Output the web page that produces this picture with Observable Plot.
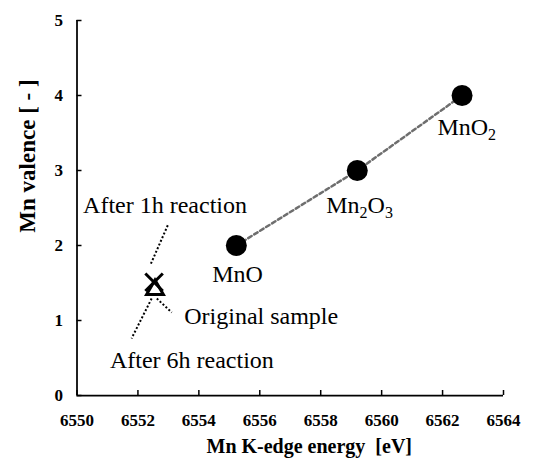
<!DOCTYPE html>
<html><head><meta charset="utf-8">
<script src="https://cdn.jsdelivr.net/npm/d3@7"></script>
<script src="https://cdn.jsdelivr.net/npm/@observablehq/plot@0.6"></script>
<style>
body{margin:0;background:#fff;}
#chart svg, #chart svg text { font-family: "Liberation Serif", "Times New Roman", serif !important; }
</style>
</head><body><div id="chart"></div>
<script>
// Reference oxides
const compounds = ["MnO", "Mn2O3", "MnO2"];
const edgeEnergy = [6555.23, 6559.2, 6562.64];
const valence = [2, 3, 4];
const compoundLabelX = [6554.44, 6558.18, 6561.83];
const compoundLabelY = [1.507, 2.44, 3.467];

// Samples
const sampleNames = ["After 1h reaction", "Original sample"];
const sampleEnergy = [6552.53, 6552.56];
const sampleValence = [1.51, 1.41];
const sampleSymbols = ["times", "triangle2"];

// Annotations with dotted leader lines
const annotations = ["After 1h reaction", "Original sample", "After 6h reaction"];
const annotX = [6550.2, 6553.52, 6551.08];
const annotY = [2.427, 0.96, 0.373];
const leaderX1 = [6552.98, 6552.62, 6552.45];
const leaderY1 = [2.27, 1.293, 1.293];
const leaderX2 = [6552.40, 6553.11, 6551.79];
const leaderY2 = [1.733, 1.107, 0.76];

// Axes
const xTicks = [6550, 6552, 6554, 6556, 6558, 6560, 6562, 6564];
const yTicks = [0, 1, 2, 3, 4, 5];
const xTitle = "Mn K-edge energy  [eV]";
const yTitle = "Mn valence [ - ]";

const refTable = compounds.map((name, i) => ({name, x: edgeEnergy[i], y: valence[i], lx: compoundLabelX[i], ly: compoundLabelY[i]}));
const sampleTable = sampleNames.map((name, i) => ({name, x: sampleEnergy[i], y: sampleValence[i], symbol: sampleSymbols[i]}));
const annTable = annotations.map((text, i) => ({text, x: annotX[i], y: annotY[i], x1: leaderX1[i], y1: leaderY1[i], x2: leaderX2[i], y2: leaderY2[i]}));

const W = 536, H = 460, mL = 76.5, mR = 33, mT = 20, mB = 65;

const plot = Plot.plot({
  width: W, height: H,
  marginLeft: mL, marginRight: mR, marginTop: mT, marginBottom: mB,
  style: {fontFamily: '"Liberation Serif", "Times New Roman", serif', fontSize: "17px", fontWeight: "bold", color: "#000", background: "#fff", overflow: "visible"},
  x: {domain: [6550, 6564]},
  y: {domain: [0, 5]},
  marks: [
    Plot.axisX({ticks: xTicks, tickSize: 0, tickPadding: 18, tickFormat: d => String(d), label: null}),
    Plot.axisY({ticks: yTicks, tickSize: 0, tickPadding: 14, tickFormat: d => String(d), label: null}),
    Plot.tickX(xTicks, {x: d => d, insetTop: H - mT - mB - 5, stroke: "#000", strokeWidth: 1.5}),
    Plot.tickY(yTicks, {y: d => d, insetRight: W - mL - mR - 5, stroke: "#000", strokeWidth: 1.5}),
    Plot.ruleX([6550], {stroke: "#000", strokeWidth: 1.75}),
    Plot.ruleY([0], {stroke: "#000", strokeWidth: 1.75}),
    Plot.line(refTable, {x: "x", y: "y", stroke: "#6e6e6e", strokeWidth: 2.5, strokeDasharray: "4,3"}),
    Plot.dot(refTable, {x: "x", y: "y", r: 10.5, fill: "#000", stroke: "none"}),
    Plot.link(annTable, {x1: "x1", y1: "y1", x2: "x2", y2: "y2", stroke: "#000", strokeWidth: 2, strokeDasharray: "2,2"}),
    Plot.dot(sampleTable, {x: "x", y: "y", symbol: "symbol", r: 8, stroke: "#000", strokeWidth: 3, fill: "none"}),
    Plot.text(refTable, {x: "lx", y: "ly", text: "name", textAnchor: "start", lineAnchor: "bottom", fontSize: 24, fontWeight: "normal"}),
    Plot.text(annTable, {x: "x", y: "y", text: "text", textAnchor: "start", lineAnchor: "bottom", fontSize: 24, fontWeight: "normal"}),
    Plot.text([xTitle], {text: d => d, frameAnchor: "bottom", textAnchor: "middle", lineAnchor: "middle", dx: 19, dy: 51, fontSize: 20, fontWeight: "bold"}),
    Plot.text([yTitle], {text: d => d, frameAnchor: "left", textAnchor: "middle", lineAnchor: "middle", dx: -49, dy: -52, rotate: -90, fontSize: 23, fontWeight: "bold"})
  ]
});

// subscripts in chemical formulas
d3.select(plot).selectAll("text").each(function () {
  const t = this.textContent;
  if (compounds.includes(t) && /\d/.test(t)) {
    const parts = t.split(/(\d)/).filter(s => s);
    this.textContent = "";
    let prevSub = false;
    parts.forEach(p => {
      const isSub = /^\d$/.test(p);
      const ts = d3.select(this).append("tspan").text(p);
      if (isSub) { ts.attr("font-size", 16).attr("dy", 5); }
      else if (prevSub) { ts.attr("dy", -5); }
      prevSub = isSub;
    });
  }
});

document.getElementById("chart").appendChild(plot);
</script>
</body></html>
